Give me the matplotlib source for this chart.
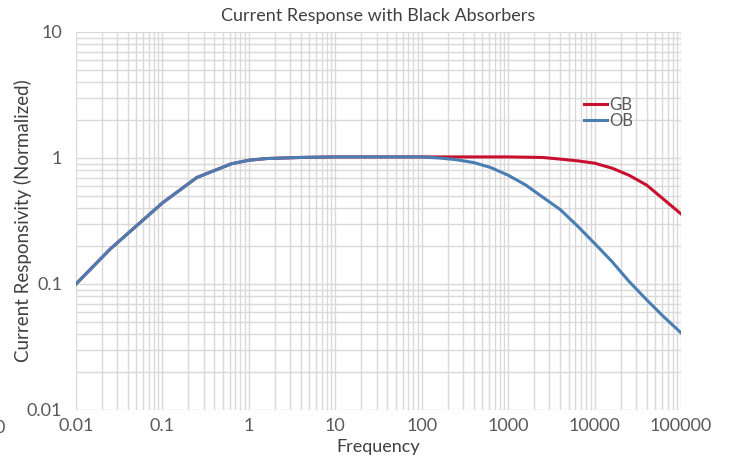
import matplotlib
matplotlib.use("Agg")
from matplotlib import pyplot as plt
from matplotlib.ticker import LogLocator, FixedLocator, FixedFormatter, NullFormatter
import numpy as np

# frequency points
freq = [0.01, 0.025, 0.1, 0.25, 0.63, 1, 1.6, 4, 10, 25, 63, 100, 160, 250, 400,
        630, 1000, 1600, 2500, 4000, 6300, 10000, 16000, 25000, 40000, 63000, 100000]

# normalized responsivity
gb = [0.1, 0.19, 0.44, 0.70, 0.90, 0.96, 0.99, 1.01, 1.02, 1.02, 1.02, 1.02, 1.02, 1.02, 1.02,
      1.02, 1.02, 1.015, 1.01, 0.98, 0.95, 0.91, 0.83, 0.73, 0.61, 0.47, 0.36]
ob = [0.1, 0.19, 0.44, 0.70, 0.90, 0.96, 0.99, 1.01, 1.02, 1.02, 1.02, 1.02, 1.0, 0.97, 0.92,
      0.84, 0.73, 0.61, 0.49, 0.39, 0.29, 0.21, 0.15, 0.105, 0.075, 0.055, 0.041]

xticks = [0.01, 0.1, 1, 10, 100, 1000, 10000, 100000]
xlabels = ["0.01", "0.1", "1", "10", "100", "1000", "10000", "100000"]
yticks = [0.01, 0.1, 1, 10]
ylabels = ["0.01", "0.1", "1", "10"]

plt.rcParams['font.family'] = ['Lato', 'DejaVu Sans']

fig = plt.figure(figsize=(7.29, 4.59), dpi=100)
ax = fig.add_axes([76/729, 1-410/459, 605/729, 378/459])

ax.plot(freq, gb, color="#C8102E", lw=2.2, label="GB")
ax.plot(freq, ob, color="#4A7EB3", lw=2.2, label="OB")

ax.set_xscale("log")
ax.set_yscale("log")
ax.set_xlim(0.01, 100000)
ax.set_ylim(0.01, 10)

ax.xaxis.set_major_locator(FixedLocator(xticks))
ax.xaxis.set_major_formatter(FixedFormatter(xlabels))
ax.yaxis.set_major_locator(FixedLocator(yticks))
ax.yaxis.set_major_formatter(FixedFormatter(ylabels))
ax.xaxis.set_minor_locator(LogLocator(base=10, subs=np.arange(2, 10), numticks=20))
ax.yaxis.set_minor_locator(LogLocator(base=10, subs=np.arange(2, 10), numticks=20))
ax.xaxis.set_minor_formatter(NullFormatter())
ax.yaxis.set_minor_formatter(NullFormatter())

ax.grid(True, which="both", color="#d9d9d9", lw=1.0)
ax.set_axisbelow(True)
for s in ax.spines.values():
    s.set_visible(False)
ax.tick_params(which="both", length=0, labelsize=13, colors="#595959")
ax.tick_params(axis="x", pad=6)
ax.tick_params(axis="y", pad=10)

ax.set_title("Current Response with Black Absorbers", fontsize=13, color="#404040", pad=8)
ax.set_xlabel("Frequency", fontsize=13, color="#404040")
ax.xaxis.set_label_coords(0.5, -29/378)
ax.set_ylabel("Current Responsivity (Normalized)", fontsize=13.5, color="#404040")
ax.yaxis.set_label_coords(-44/605, 0.5)

leg = ax.legend(loc="upper left", bbox_to_anchor=(0.82, 0.86), frameon=False, fontsize=12,
                handlelength=1.4, handletextpad=0.15, labelspacing=0.0, borderpad=0.2)
for t in leg.get_texts():
    t.set_color("#595959")

fig.text(0.0, 1-428/459, "0", fontsize=13, color="#595959", ha="center", va="center")

fig.savefig("out.png", dpi=100)
